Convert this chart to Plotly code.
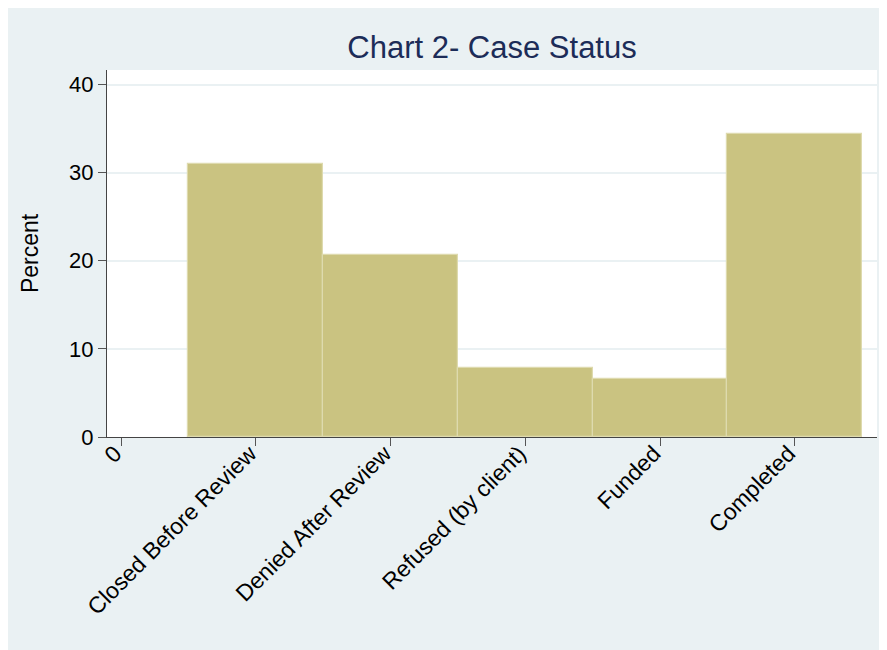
import plotly.graph_objects as go

# case status categories and their share of cases (percent)
categories = ['Closed Before Review', 'Denied After Review', 'Refused (by client)',
              'Funded', 'Completed']
positions = [1, 2, 3, 4, 5]
percents = [31.0, 20.7, 7.8, 6.6, 34.4]

tick_vals = [0, 1, 2, 3, 4, 5]
tick_text = ['0'] + categories
y_ticks = [0, 10, 20, 30, 40]

bg = '#EAF1F3'
bar_col = '#CAC381'
font = 'Liberation Sans, Arial, sans-serif'

fig = go.Figure()
fig.add_trace(go.Bar(
    x=positions, y=percents, width=1,
    marker=dict(color=bar_col, line=dict(color='#DEDAAE', width=1.2)),
))

# the page body adds an 8px offset, so margins are set relative to that
fig.update_layout(
    width=887, height=650,
    margin=dict(l=99, r=18, t=62, b=221),
    paper_bgcolor=bg, plot_bgcolor='white',
    bargap=0, showlegend=False,
    font=dict(family=font, size=22, color='black'),
    title=dict(text='Chart 2- Case Status', x=0.5, xref='paper', xanchor='center',
               y=1 - 39 / 650, yanchor='middle',
               font=dict(size=31, color='#1C2C58')),
)

fig.update_xaxes(
    range=[-0.104, 5.61], tickvals=tick_vals, ticktext=tick_text,
    tickangle=-45, ticks='outside', ticklen=8, tickcolor='#555555', tickwidth=1.2,
    ticklabelstandoff=-15, ticklabelshift=-6,
    showline=True, linecolor='#444444', linewidth=1.2, showgrid=False,
    zeroline=False, tickfont=dict(size=23),
)
fig.update_yaxes(
    range=[0, 41.65], tickvals=y_ticks, ticks='outside', ticklen=8,
    tickcolor='#555555', tickwidth=1.2,
    showline=True, linecolor='#444444', linewidth=1.2,
    showgrid=True, gridcolor=bg, gridwidth=1.5, zeroline=False,
    tickfont=dict(size=22),
    title=dict(text='Percent', font=dict(size=23), standoff=23),
)

fig.write_html('out.html')
